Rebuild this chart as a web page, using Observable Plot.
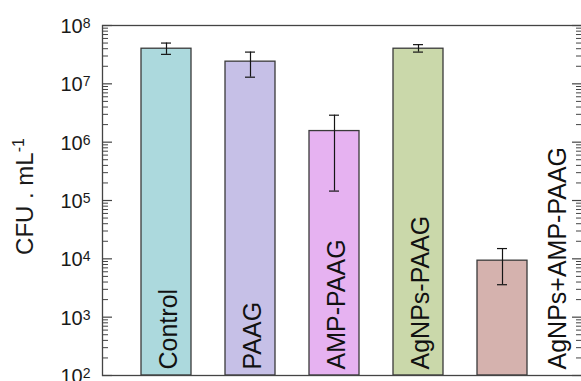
<!DOCTYPE html>
<html><head><meta charset="utf-8">
<script src="https://cdn.jsdelivr.net/npm/d3@7"></script>
<script src="https://cdn.jsdelivr.net/npm/@observablehq/plot@0.6"></script>
<style>
html,body{margin:0;padding:0;background:#fff;overflow:hidden;}
#chart{width:581px;height:381px;overflow:hidden;}
</style></head><body><div id="chart"></div>
<script>
const groups = ["Control", "PAAG", "AMP-PAAG", "AgNPs-PAAG", "AgNPs+AMP-PAAG"];
const cfu = [4.0e7, 2.4e7, 1.55e6, 4.0e7, 9.3e3];
const errLow = [3.2e7, 1.3e7, 1.45e5, 3.5e7, 3.6e3];
const errHigh = [5.0e7, 3.5e7, 2.9e6, 4.7e7, 1.5e4];
const colors = ["#acd9dd", "#c6c0e7", "#e6b2f1", "#cad8aa", "#d5b2ae"];
const tickValues = [1e2, 1e3, 1e4, 1e5, 1e6, 1e7, 1e8];
const tickExponents = ["2", "3", "4", "5", "6", "7", "8"];
const yTitle = "CFU . mL";
const yTitleExp = "-1";

const rows = groups.map((g, i) => ({group: g, value: cfu[i], lo: errLow[i], hi: errHigh[i]}));
const minorTicks = d3.scaleLog().domain([1e2, 1e8]).ticks().filter(v => !tickValues.includes(v));

const W = 581, H = 381, ML = 102, MR = -1, MT = 25, MB = 6;
const FW = W - ML - MR;
const font = "'Liberation Sans', Arial, sans-serif";

const chart = Plot.plot({
  width: W, height: H,
  marginLeft: ML, marginRight: MR, marginTop: MT, marginBottom: MB,
  style: {fontFamily: font, background: "#fff", color: "#1a1a1a"},
  x: {domain: groups, axis: null, paddingInner: 0.405, paddingOuter: 0.548, align: 0.41},
  y: {type: "log", domain: [1e2, 1e8], axis: null},
  color: {domain: groups, range: colors},
  marks: [
    Plot.barY(rows, {x: "group", y1: 1e2, y2: "value", fill: "group", stroke: "#3a3a3a", strokeWidth: 1.3}),
    Plot.ruleX(rows, {x: "group", y1: "lo", y2: "hi", stroke: "#151515", strokeWidth: 1.2}),
    Plot.tickY(rows, {x: "group", y: "hi", inset: 20, stroke: "#151515", strokeWidth: 1.2}),
    Plot.tickY(rows, {x: "group", y: "lo", inset: 20, stroke: "#151515", strokeWidth: 1.2}),
    Plot.ruleY(tickValues, {insetRight: FW - 10, stroke: "#444", strokeWidth: 1.2}),
    Plot.ruleY(minorTicks, {insetRight: FW - 6, stroke: "#444", strokeWidth: 1}),
    Plot.ruleY(tickValues, {insetLeft: FW - 10, stroke: "#444", strokeWidth: 1.2}),
    Plot.ruleY(minorTicks, {insetLeft: FW - 6, stroke: "#444", strokeWidth: 1}),
    Plot.frame({stroke: "#444", strokeWidth: 1.3}),
    Plot.text(tickValues, {y: d => d, text: (d, i) => "10^" + tickExponents[i], frameAnchor: "left", textAnchor: "end", dx: -12, dy: 1, fontSize: 20, fill: "#1a1a1a"}),
    Plot.text(rows.slice(0, 4), {x: "group", y: 1e2, text: "group", rotate: -90, textAnchor: "start", dy: -6, dx: 2, fontSize: 25, fill: "#111"}),
    Plot.text(rows.slice(4), {x: "group", y: 1e2, text: "group", rotate: -90, textAnchor: "start", dy: -6, dx: 55, fontSize: 25, fill: "#111"}),
    Plot.text([yTitle + "^" + yTitleExp], {text: d => d, frameAnchor: "left", rotate: -90, textAnchor: "middle", dx: -77, dy: -4, fontSize: 24, fill: "#1a1a1a"})
  ]
});

chart.querySelectorAll("text").forEach(t => {
  const s = t.textContent;
  const k = s.indexOf("^");
  if (k < 0) return;
  const base = s.slice(0, k), exp = s.slice(k + 1);
  const isTitle = base.startsWith("CFU");
  t.textContent = base;
  const ts = document.createElementNS("http://www.w3.org/2000/svg", "tspan");
  ts.setAttribute("dy", isTitle ? "-9" : "-5");
  ts.setAttribute("font-size", isTitle ? "16" : "14");
  ts.textContent = exp;
  t.appendChild(ts);
});

document.getElementById("chart").appendChild(chart);
</script></body></html>
